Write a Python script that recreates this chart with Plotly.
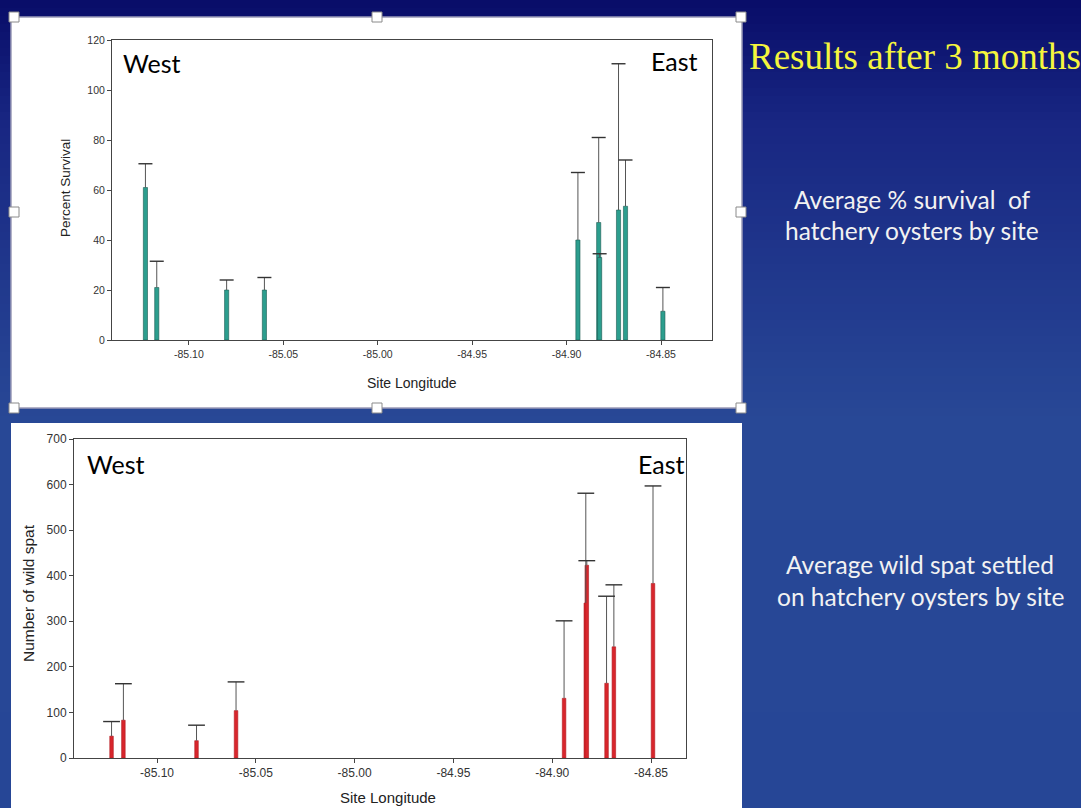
import plotly.graph_objects as go

# ---------------- data ----------------
longitude = [-85.123, -85.117, -85.080, -85.060, -84.894, -84.883, -84.8825, -84.8725, -84.8688, -84.849]
survival = [61, 21, 20, 20, 40, 47, 33, 52, 53.5, 11.5]
survival_err = [9.5, 10.5, 4, 5, 27, 34, 1.5, 58.5, 18.5, 9.5]
spat = [48, 83, 38, 104, 131, 340, 423, 164, 244, 383]
spat_err = [32, 80, 34, 63, 170, 241, 10, 191, 136, 214]
x_ticks = [-85.10, -85.05, -85.00, -84.95, -84.90, -84.85]
x_tick_text = ["-85.10", "-85.05", "-85.00", "-84.95", "-84.90", "-84.85"]

W, H = 1081, 808


def px(x):
    return x / W


def py(y):
    return 1 - y / H


fig = go.Figure()


def add_panel(vals, errs, xa, ya, bar_w, color, edge, cap_size):
    fig.add_trace(go.Bar(
        x=longitude, y=vals, width=[bar_w] * len(longitude),
        marker=dict(color=color, line=dict(color=edge, width=0.6)),
        xaxis=xa, yaxis=ya, showlegend=False))
    tops = [v + e for v, e in zip(vals, errs)]
    fig.add_trace(go.Scatter(
        x=longitude, y=tops, mode="markers",
        marker=dict(symbol="line-ew-open", size=cap_size, color="#333333",
                    line=dict(color="#333333", width=1.4)),
        error_y=dict(type="data", array=[0] * len(errs), arrayminus=errs, symmetric=False,
                     color="#555555", thickness=1, width=0),
        xaxis=xa, yaxis=ya, showlegend=False))


add_panel(survival, survival_err, "x", "y", 0.0022, "#2c9e8e", "#1d5a52", 10)
add_panel(spat, spat_err, "x2", "y2", 0.0018, "#d8262c", "#b01a20", 12)

top_tick_font = dict(family="Liberation Sans, Arial", size=10.5, color="#333333")
bot_tick_font = dict(family="Liberation Sans, Arial", size=12, color="#333333")
axis_common = dict(showline=True, linecolor="#444444", linewidth=1, mirror=True,
                   ticks="outside", ticklen=4, tickcolor="#444444", showgrid=False,
                   zeroline=False, automargin=False)

shapes = []
# background gradient
stops = [(0, (8, 12, 104)), (120, (24, 38, 130)), (420, (40, 72, 150)), (808, (38, 70, 150))]
N = 101
for i in range(N):
    y0 = i * H / N
    y1 = (i + 1) * H / N + 0.6
    ym = (y0 + y1) / 2
    for j in range(len(stops) - 1):
        if stops[j][0] <= ym <= stops[j + 1][0]:
            t = (ym - stops[j][0]) / (stops[j + 1][0] - stops[j][0])
            c = tuple(int(round(stops[j][1][k] + t * (stops[j + 1][1][k] - stops[j][1][k]))) for k in range(3))
            break
    shapes.append(dict(type="rect", xref="paper", yref="paper", x0=0, x1=1, y0=py(y1), y1=py(y0),
                       fillcolor="rgb(%d,%d,%d)" % c, line=dict(width=0), layer="below"))

# white panels
shapes.append(dict(type="rect", xref="paper", yref="paper", x0=px(11), x1=px(742), y0=py(408), y1=py(17),
                   fillcolor="white", line=dict(color="#9a9ab8", width=1.5), layer="below"))
shapes.append(dict(type="rect", xref="paper", yref="paper", x0=px(11), x1=px(742), y0=py(812), y1=py(423),
                   fillcolor="white", line=dict(width=0), layer="below"))
# selection handles
for hx, hy in [(14, 17), (377, 17), (741, 17), (14, 212), (741, 212), (14, 408), (377, 408), (741, 408)]:
    shapes.append(dict(type="rect", xref="paper", yref="paper", x0=px(hx - 5), x1=px(hx + 5),
                       y0=py(hy + 5), y1=py(hy - 5), fillcolor="white",
                       line=dict(color="#8a8a8a", width=1), layer="above"))

ann = []
lat = "Lato, Open Sans, sans-serif"
for (x, y, t) in [(152, 63, "West"), (675, 61, "East"), (116, 464, "West"), (661, 464, "East")]:
    ann.append(dict(x=px(x), y=py(y), xref="paper", yref="paper", text=t, showarrow=False,
                    font=dict(family=lat, size=25, color="black"), xanchor="center", yanchor="middle"))
ann.append(dict(x=px(915), y=py(56), xref="paper", yref="paper", text="Results after 3 months",
                showarrow=False, font=dict(family="Liberation Serif, Times New Roman", size=37, color="#f5f53d"),
                xanchor="center", yanchor="middle"))
for (x, y, t) in [(912, 199, "Average % survival  of"), (912, 231, "hatchery oysters by site"),
                  (920, 564, "Average wild spat settled"), (921, 596, "on hatchery oysters by site")]:
    ann.append(dict(x=px(x), y=py(y), xref="paper", yref="paper", text=t, showarrow=False,
                    font=dict(family=lat, size=24.5, color="#f2f2f2"), xanchor="center", yanchor="middle"))

# axis titles
ar = "Liberation Sans, Arial"
ann.append(dict(x=px(412), y=py(383), xref="paper", yref="paper", text="Site Longitude", showarrow=False,
                font=dict(family=ar, size=14, color="#222222"), xanchor="center", yanchor="middle"))
ann.append(dict(x=px(65), y=py(188), xref="paper", yref="paper", text="Percent Survival", showarrow=False,
                textangle=-90, font=dict(family=ar, size=13.5, color="#222222"), xanchor="center", yanchor="middle"))
ann.append(dict(x=px(388), y=py(797), xref="paper", yref="paper", text="Site Longitude", showarrow=False,
                font=dict(family=ar, size=15, color="#222222"), xanchor="center", yanchor="middle"))
ann.append(dict(x=px(28), y=py(593), xref="paper", yref="paper", text="Number of wild spat", showarrow=False,
                textangle=-90, font=dict(family=ar, size=15.5, color="#222222"), xanchor="center", yanchor="middle"))

fig.update_layout(
    width=W, height=H, margin=dict(l=0, r=0, t=0, b=0, pad=0, autoexpand=False),
    paper_bgcolor="rgb(30,50,130)", plot_bgcolor="white",
    barmode="overlay", shapes=shapes, annotations=ann,
    xaxis=dict(domain=[px(112), px(712)], range=[-85.1407, -84.823], anchor="y",
               tickvals=x_ticks, ticktext=x_tick_text, tickfont=top_tick_font, **axis_common),
    yaxis=dict(domain=[py(340), py(40)], range=[0, 120], anchor="x", dtick=20,
               tickfont=top_tick_font, **axis_common),
    xaxis2=dict(domain=[px(74), px(686)], range=[-85.142, -84.8323], anchor="y2",
                tickvals=x_ticks, ticktext=x_tick_text, tickfont=bot_tick_font, **axis_common),
    yaxis2=dict(domain=[py(758), py(439)], range=[0, 700], anchor="x2", dtick=100,
                tickfont=bot_tick_font, **axis_common),
)

fig.write_html("out.html", config={"displayModeBar": False},
               post_script=("document.documentElement.style.margin='0';"
                            "document.body.style.margin='0';"
                            "document.body.style.overflow='hidden';"
                            "document.documentElement.style.overflow='hidden';"))
